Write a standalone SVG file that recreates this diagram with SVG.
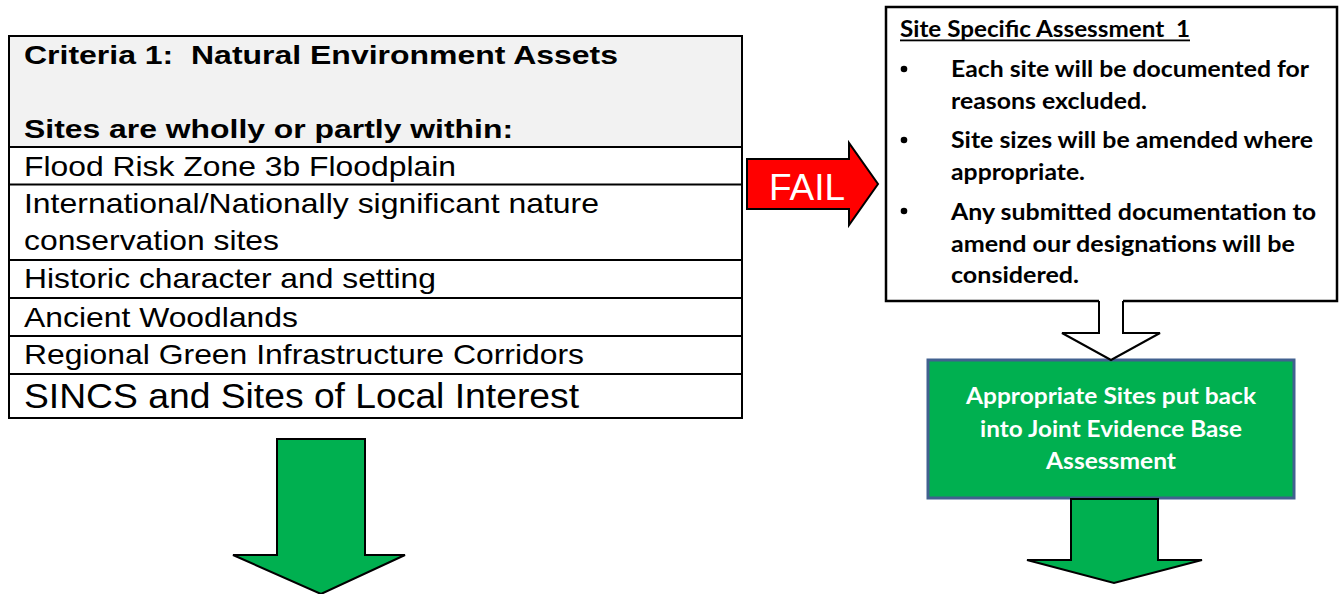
<svg xmlns="http://www.w3.org/2000/svg" width="1342" height="594" viewBox="0 0 1342 594">
<style>
text{white-space:pre}
.arial{font-family:"Liberation Sans",Arial,sans-serif;fill:#000}
.hdr{font-size:26px;font-weight:bold}
.row{font-size:28px}
.cal{font-family:Lato,"Open Sans",sans-serif;font-weight:bold;fill:#000;font-size:22px}
.line{stroke:#000;stroke-width:2;fill:none}
.green{fill:#00b050;stroke:#000;stroke-width:2;stroke-linejoin:miter}
</style>
<rect width="1342" height="594" fill="#fff"/>
<g id="criteria-table">
<rect x="9" y="36" width="733" height="111" fill="#f2f2f2"/>
<rect x="9" y="36" width="733" height="382" class="line"/>
<path class="line" d="M9 147H742M9 184.5H742M9 260H742M9 298H742M9 336H742M9 374H742"/>
<text class="arial hdr" x="24" y="64" textLength="594" lengthAdjust="spacingAndGlyphs" xml:space="preserve">Criteria 1:  Natural Environment Assets</text>
<text class="arial hdr" x="24" y="138" textLength="489" lengthAdjust="spacingAndGlyphs">Sites are wholly or partly within:</text>
<text class="arial row" x="24" y="176" textLength="432" lengthAdjust="spacingAndGlyphs">Flood Risk Zone 3b Floodplain</text>
<text class="arial row" x="24" y="213" textLength="575" lengthAdjust="spacingAndGlyphs">International/Nationally significant nature</text>
<text class="arial row" x="24" y="250" textLength="255" lengthAdjust="spacingAndGlyphs">conservation sites</text>
<text class="arial row" x="24" y="288" textLength="412" lengthAdjust="spacingAndGlyphs">Historic character and setting</text>
<text class="arial row" x="24" y="327" textLength="274" lengthAdjust="spacingAndGlyphs">Ancient Woodlands</text>
<text class="arial row" x="24" y="364" textLength="560" lengthAdjust="spacingAndGlyphs">Regional Green Infrastructure Corridors</text>
<text class="arial" x="24" y="408" font-size="35" textLength="555" lengthAdjust="spacingAndGlyphs">SINCS and Sites of Local Interest</text>
</g>
<g id="site-specific-assessment">
<rect x="886" y="7" width="451" height="294" fill="#fff" stroke="#000" stroke-width="2.5"/>
<text class="cal" x="900" y="37" font-size="21" textLength="290" lengthAdjust="spacingAndGlyphs" xml:space="preserve">Site Specific Assessment  1</text>
<rect x="900" y="39.5" width="290" height="1.8" fill="#000"/>
<circle cx="904" cy="69" r="3.3" fill="#000"/>
<circle cx="904" cy="140" r="3.3" fill="#000"/>
<circle cx="904" cy="211" r="3.3" fill="#000"/>
<text class="cal" x="951" y="77" textLength="358" lengthAdjust="spacingAndGlyphs">Each site will be documented for</text>
<text class="cal" x="951" y="109" textLength="196" lengthAdjust="spacingAndGlyphs">reasons excluded.</text>
<text class="cal" x="951" y="148" textLength="362" lengthAdjust="spacingAndGlyphs">Site sizes will be amended where</text>
<text class="cal" x="951" y="180" textLength="134" lengthAdjust="spacingAndGlyphs">appropriate.</text>
<text class="cal" x="951" y="220" textLength="365" lengthAdjust="spacingAndGlyphs">Any submitted documentation to</text>
<text class="cal" x="951" y="252" textLength="344" lengthAdjust="spacingAndGlyphs">amend our designations will be</text>
<text class="cal" x="951" y="283" textLength="128" lengthAdjust="spacingAndGlyphs">considered.</text>
</g>
<g id="appropriate-sites">
<rect x="928" y="360" width="366" height="138" fill="#00b050" stroke="#41618f" stroke-width="3"/>
<g class="cal" style="fill:#fff" text-anchor="middle" font-size="22">
<text x="1111" y="404" textLength="290" lengthAdjust="spacingAndGlyphs">Appropriate Sites put back</text>
<text x="1111" y="437" textLength="262" lengthAdjust="spacingAndGlyphs">into Joint Evidence Base</text>
<text x="1111" y="469" textLength="130" lengthAdjust="spacingAndGlyphs">Assessment</text>
</g>
</g>
<g id="connectors">
<g id="fail-arrow">
<polygon points="747,159 849,159 849,143 878,184 849,225 849,209 747,209" fill="#ff0000" stroke="#000" stroke-width="2"/>
<text x="769" y="200" font-family="Liberation Sans,Arial,sans-serif" font-size="36" fill="#fff" textLength="76" lengthAdjust="spacingAndGlyphs">FAIL</text>
</g>
<g id="hollow-arrow">
<polygon points="1099,299 1123,299 1123,333 1160,333 1111,360 1062,333 1099,333" fill="#fff"/>
<polyline points="1099,301 1099,333 1062,333 1111,360 1160,333 1123,333 1123,301" class="line"/>
</g>
<polygon id="left-down-arrow" class="green" points="277,439 365,439 365,555 405,555 321,594 233,555 277,555"/>
<polygon id="right-down-arrow" class="green" points="1071,499 1158,499 1158,560 1202,560 1114,583 1027,560 1071,560"/>
</g>
</svg>
